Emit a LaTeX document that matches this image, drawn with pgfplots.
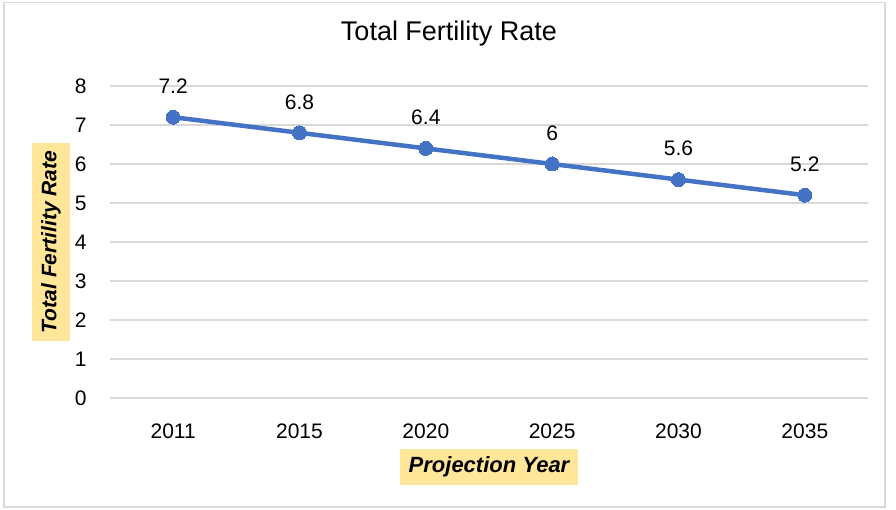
\documentclass[border=0pt]{standalone}
\usepackage{fontspec}
\setmainfont{Liberation Sans}
\usepackage{pgfplots}
\pgfplotsset{compat=1.18}
\definecolor{lineblue}{HTML}{4472C4}
\definecolor{gridgray}{HTML}{D9D9D9}
\definecolor{labelyellow}{HTML}{FFE699}
\definecolor{bordergray}{HTML}{D9D9D9}
\begin{document}
\begin{tikzpicture}[x=1pt,y=1pt]
\path[use as bounding box] (0,0) rectangle (896,510);
\draw[bordergray, line width=1.5pt] (4,3) rectangle (885,507.5);
\begin{axis}[
  at={(110pt,112pt)}, anchor=south west,
  scale only axis, width=758pt, height=312pt,
  xmin=-0.5, xmax=5.5, ymin=0, ymax=8,
  xtick={0,1,2,3,4,5},
  xticklabels={2011,2015,2020,2025,2030,2035},
  ytick={0,1,2,3,4,5,6,7,8},
  ymajorgrids, grid style={gridgray, line width=1.5pt},
  major tick length=0pt,
  axis line style={draw=none},
  /pgf/number format/assume math mode=true,
  tick label style={font=\fontsize{21}{25}\selectfont, text=black},
  xticklabel style={yshift=-22pt},
  yticklabel style={xshift=-20pt},
  title={Total Fertility Rate},
  title style={font=\fontsize{27}{31}\selectfont, at={(axis description cs:0.5,1)}, anchor=center, xshift=-40pt, yshift=46pt, text=black},
  xlabel={\bfseries\itshape Projection Year},
  xlabel style={font=\fontsize{22}{26}\selectfont, at={(axis description cs:0.5,0)}, anchor=center, yshift=-69pt, fill=labelyellow, minimum height=36pt, inner xsep=9pt},
  ylabel={\bfseries\itshape Total Fertility Rate},
  ylabel style={font=\fontsize{21}{25}\selectfont, at={(axis description cs:-0.0778,0.5)}, anchor=center, fill=labelyellow, minimum height=38pt, inner xsep=8pt},
  nodes near coords,
  nodes near coords style={font=\fontsize{21}{25}\selectfont, anchor=center, yshift=31pt, text=black},
]
\addplot[color=lineblue, line width=4.5pt, mark=*, mark size=7pt, mark options={fill=lineblue, draw=lineblue, line width=0pt}]
  coordinates {(0,7.2) (1,6.8) (2,6.4) (3,6) (4,5.6) (5,5.2)};
\end{axis}
\end{tikzpicture}
\end{document}
